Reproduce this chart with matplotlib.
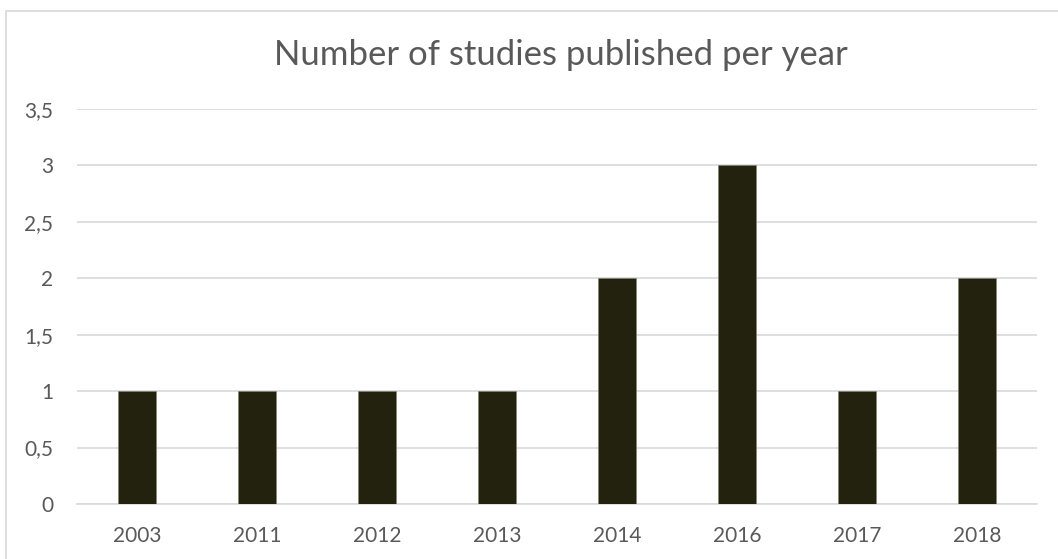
import matplotlib
matplotlib.use("Agg")
import matplotlib.pyplot as plt
from matplotlib.patches import Rectangle

years = ["2003", "2011", "2012", "2013", "2014", "2016", "2017", "2018"]
studies = [1, 1, 1, 1, 2, 3, 1, 2]
y_ticks = [0, 0.5, 1, 1.5, 2, 2.5, 3, 3.5]
y_labels = ["0", "0,5", "1", "1,5", "2", "2,5", "3", "3,5"]
title = "Number of studies published per year"

W, H = 1058, 559
plt.rcParams["font.family"] = ["Lato", "DejaVu Sans"]
fig = plt.figure(figsize=(W / 100, H / 100), dpi=100)

# outer chart border (runs past the right and bottom edges)
fig.patches.append(Rectangle((6 / W, -10 / H), (W + 10) / W, (H + 10 - 10.5) / H,
                             transform=fig.transFigure, fill=False,
                             edgecolor="#d9d9d9", linewidth=1.2))

left, right, top, bottom = 77, 1037, 109, 504
ax = fig.add_axes([left / W, 1 - bottom / H, (right - left) / W, (bottom - top) / H])

x = range(len(years))
ax.bar(x, studies, width=0.31, color="#22220f", edgecolor="#7f7f70", linewidth=0.4, zorder=3)
ax.set_xlim(-0.5, len(years) - 0.5)
ax.set_ylim(0, 3.5)
ax.set_yticks(y_ticks)
ax.set_yticklabels(y_labels)
ax.set_xticks(list(x))
ax.set_xticklabels(years)
ax.yaxis.grid(True, color="#d9d9d9", linewidth=1.2, zorder=0)
for s in ["top", "right", "left"]:
    ax.spines[s].set_visible(False)
ax.spines["bottom"].set_color("#d9d9d9")
ax.spines["bottom"].set_linewidth(1.2)
ax.tick_params(axis="both", length=0, labelsize=15, labelcolor="#595959")
ax.tick_params(axis="y", pad=17)
ax.tick_params(axis="x", pad=16)

fig.text(561 / W, 1 - 55 / H, title, ha="center", va="center", fontsize=25, color="#595959")

fig.savefig("out.png", dpi=100, facecolor="white")
